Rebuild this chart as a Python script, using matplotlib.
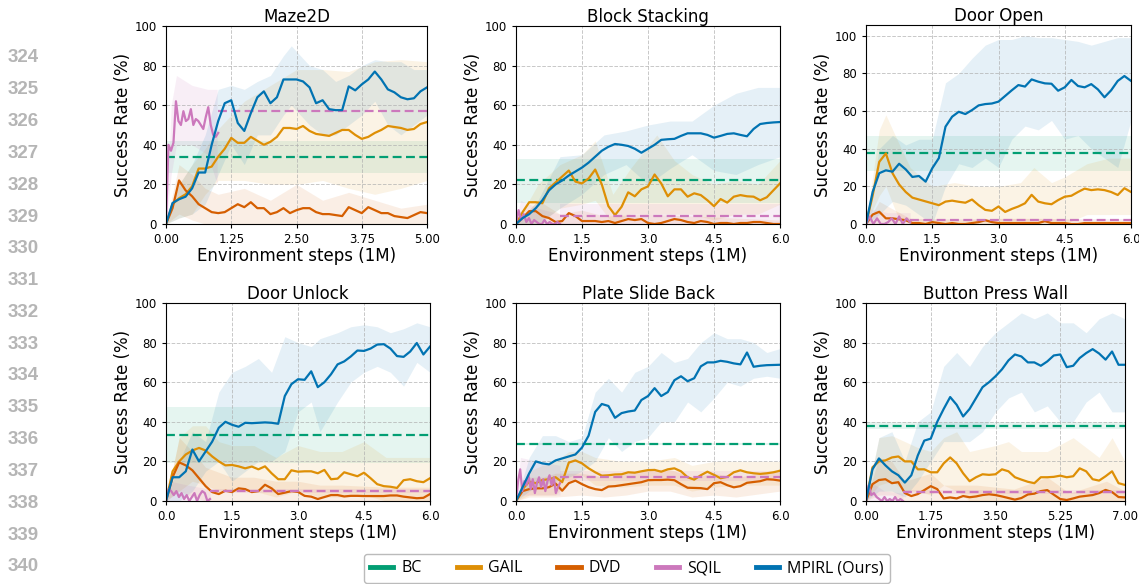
import numpy as np
import matplotlib.pyplot as plt
from matplotlib.lines import Line2D

# colours (seaborn colorblind)
C_BC = '#029e73'
C_GAIL = '#de8f05'
C_DVD = '#d55e00'
C_SQIL = '#cc78bc'
C_MPIRL = '#0173b2'

titles = ['Maze2D', 'Block Stacking', 'Door Open', 'Door Unlock', 'Plate Slide Back', 'Button Press Wall']
x_max = [5.0, 6.0, 6.0, 6.0, 6.0, 7.0]
tick_step = [1.25, 1.5, 1.5, 1.5, 1.5, 1.75]
tick_fmt = ['%.2f', '%.1f', '%.1f', '%.1f', '%.1f', '%.2f']
y_top = [100, 100, 105.7, 100, 100, 100]

# ---------------- Maze2D ----------------
mpirl_maze = [0, 10.6, 12.5, 13.8, 18, 26, 26, 40, 52, 61,
              62.5, 51, 47, 56, 64, 67, 61, 64, 73, 73,
              73, 72, 69, 61, 62.5, 58, 57.5, 57.5, 69.5, 67.5,
              70.5, 73, 77, 73, 68, 66.5, 64, 63, 63.5, 67, 69]
gail_maze = [0, 10, 13, 15, 19, 28, 28, 29, 34, 38,
             43.5, 41, 41, 44, 42, 40, 41.5, 44, 48.5, 48.5,
             48, 49.5, 47, 45.5, 45, 44.5, 46, 47.5, 47.5, 45,
             43, 44, 46, 47.5, 49.5, 49, 48.5, 47.5, 48, 50.5, 51.5]
dvd_maze = [0, 8, 22, 17, 14, 10, 8, 6, 5.5, 6,
            8, 10, 8.5, 11, 8, 8, 5, 6, 8, 5.5,
            7, 8, 8, 6, 5, 5, 4.5, 4, 8.5, 7,
            5.5, 8.5, 7, 5.5, 5.5, 4, 3.5, 3, 4.5, 6, 5.5]
sqil_maze = [0, 40, 37, 41, 62, 52, 50, 57, 52, 53, 58, 50, 53, 52, 50, 48, 54, 59, 50, 45, 44, 46]
sqil_level_maze = (57.3, 57.3, 57.3)
bc_maze = (34, 26, 42)
mpirl_band_maze = [(0, 0, 0), (0.25, 3, 20), (0.5, 5, 30), (0.75, 10, 45), (1.0, 25, 68), (1.25, 40, 70),
                   (1.5, 30, 68), (1.75, 45, 72), (2.0, 45, 75), (2.25, 55, 85), (2.4, 60, 90), (2.75, 50, 80),
                   (3.0, 45, 78), (3.25, 45, 72), (3.5, 50, 75), (3.75, 55, 80), (4.0, 62, 83), (4.25, 50, 82),
                   (4.5, 45, 82), (4.75, 50, 78), (5.0, 55, 78)]
gail_band_maze = [(0, 0, 0), (0.25, 3, 20), (0.5, 5, 30), (0.75, 15, 38), (1.0, 22, 48), (1.5, 22, 62),
                  (2.0, 20, 70), (2.5, 20, 78), (3.0, 22, 78), (3.5, 18, 77), (4.0, 15, 82), (4.5, 18, 83),
                  (5.0, 22, 82)]
dvd_band_maze = [(0, 0, 0), (0.25, 5, 30), (0.5, 2, 25), (0.75, 0, 18), (1.0, 0, 15), (1.5, 0, 18),
                 (2.0, 0, 12), (2.5, 0, 20), (3.0, 0, 12), (3.5, 0, 16), (4.0, 0, 12), (4.5, 0, 8), (5.0, 0, 10)]
sqil_band_maze = [(0, 0, 0), (0.1, 25, 60), (0.2, 40, 75), (0.5, 40, 70), (0.8, 35, 68), (0.98, 20, 68)]

# ---------------- Block Stacking ----------------
mpirl_block = [0, 3, 5, 8, 12, 17, 20, 22, 24.5, 26.5,
               28.5, 31, 34, 37, 39, 40.4, 40, 39.4, 38, 36,
               38, 40, 42.5, 42.8, 43, 44.5, 45.8, 45.8, 45.8, 45,
               43.6, 44.5, 45.5, 45.8, 45, 44.3, 48, 50.5, 51, 51.3, 51.5]
gail_block = [0, 6, 11, 11, 10.5, 18, 21, 24, 27, 21.4,
              20.5, 23, 27.5, 20, 9, 4.5, 8.7, 16, 14, 17.5,
              19, 25, 20.5, 14, 17.5, 17.5, 13.8, 15.5, 14.6, 12,
              9, 12.6, 10.8, 13.8, 14.6, 14, 13.8, 12, 13.5, 17, 20.5]
dvd_block = [0, 3, 6.5, 6.5, 4, 3, 1, 1.5, 5.5, 4,
             1.5, 1.5, 1.5, 1, 1.5, 0.5, 1.5, 2.5, 2, 2.5,
             0.5, 0, 0.5, 1.5, 2.5, 2, 1, 0.5, 1.5, 1,
             0, 0.5, 0.5, 0, 0.5, 0.5, 1, 1, 0.5, 0, 0]
sqil_block = [0, 7, 2, 5, 1, 3, 0, 2, 1, 0, 0, 2, 0, 1, 0, 0, 1, 0]
sqil_level_block = (4, 0, 10)
bc_block = (22, 10.5, 33)
mpirl_band_block = [(0, 0, 0), (0.5, 0, 12), (1.0, 8, 34), (1.5, 15, 35), (2.0, 25, 45), (2.5, 30, 47),
                    (3.0, 20, 50), (3.5, 28, 52), (4.0, 35, 52), (4.5, 27, 60), (5.0, 25, 66), (5.5, 30, 69),
                    (6.0, 34, 69)]
gail_band_block = [(0, 0, 0), (0.5, 0, 20), (1.0, 8, 30), (1.5, 10, 35), (1.8, 12, 42), (2.2, 0, 15),
                   (2.6, 5, 28), (3.2, 5, 45), (3.6, 5, 32), (4.0, 5, 25), (4.5, 2, 20), (5.0, 5, 22),
                   (5.5, 5, 20), (6.0, 10, 32)]
dvd_band_block = [(0, 0, 0), (0.5, 0, 12), (1.0, 0, 5), (1.5, 0, 7), (2.0, 0, 4), (3.0, 0, 5),
                  (4.0, 0, 4), (5.0, 0, 3), (6.0, 0, 2)]
sqil_band_block = [(0, 0, 0), (0.1, 0, 12), (0.5, 0, 8), (1.0, 0, 5)]

# ---------------- Door Open ----------------
mpirl_dopen = [0, 17, 27, 28.5, 27.8, 32, 29, 25, 25.5, 22.5,
               29.6, 35, 51.7, 57, 59.6, 58.4, 60.5, 63, 63.7, 64,
               65, 68, 71, 73.8, 73, 76.8, 75.6, 74.7, 74.5, 70.8,
               72.6, 76.5, 73.3, 72.6, 74.3, 71.5, 67.3, 71, 76, 78.6, 76]
gail_dopen = [0, 15, 33, 37.5, 27, 21, 17, 14, 13, 12,
              11, 10, 11.9, 12.4, 11.8, 11.3, 13, 10, 7.5, 7,
              9.3, 6.4, 8, 9.3, 11, 15.5, 11.9, 11, 10.5, 12.7,
              14.5, 15, 17, 18.8, 18, 18.4, 18, 17, 15.4, 19, 17]
dvd_dopen = [0, 5, 6.5, 3, 3, 2.5, 2, 0.5, 0.5, 0,
             1, 0.5, 0, 0.5, 0, 0, 0.5, 1, 2, 1,
             0.5, 0.5, 0.5, 0.5, 0.5, 0.5, 0.5, 1.5, 0.5, 0.5,
             0.5, 0, 0, 0.5, 0.5, 0.5, 0.5, 0.5, 0.5, 0.5, 0.5]
sqil_dopen = [0, 4, 0, 3, 0, 0, 1, 3, 0, 4, 0, 3, 1]
sqil_level_dopen = (2, 1.5, 2.5)
bc_dopen = (37.5, 28, 47)
mpirl_band_dopen = [(0, 0, 0), (0.3, 5, 40), (0.6, 12, 47), (0.9, 10, 42), (1.2, 5, 45), (1.5, 0, 45),
                    (1.8, 20, 75), (2.1, 32, 80), (2.4, 30, 88), (2.7, 35, 95), (3.0, 30, 98), (3.3, 45, 98),
                    (3.6, 52, 100), (3.9, 50, 99), (4.2, 55, 99), (4.5, 45, 98), (4.8, 47, 97), (5.1, 40, 95),
                    (5.4, 35, 97), (5.7, 30, 99), (6.0, 55, 99)]
gail_band_dopen = [(0, 0, 0), (0.3, 15, 50), (0.45, 20, 58), (0.7, 5, 45), (1.0, 0, 30), (1.5, 0, 20),
                   (2.0, 0, 22), (2.5, 0, 20), (3.0, 0, 20), (3.5, 0, 22), (3.8, 0, 30), (4.2, 0, 22),
                   (4.5, 0, 25), (5.0, 5, 32), (5.5, 5, 35), (6.0, 5, 35)]
dvd_band_dopen = [(0, 0, 0), (0.3, 0, 12), (0.6, 0, 8), (1.0, 0, 3), (2.0, 0, 2), (3.0, 0, 3),
                  (4.0, 0, 3), (5.0, 0, 2), (6.0, 0, 2)]
sqil_band_dopen = [(0, 0, 0), (0.1, 0, 8), (0.5, 0, 6), (1.0, 0, 6)]

# ---------------- Door Unlock ----------------
mpirl_dunlock = [0, 12, 12, 15, 26, 20, 25, 30, 37, 40,
                 38.5, 37.5, 39.5, 39.3, 39.5, 39.7, 39.5, 39, 53, 59,
                 61.5, 61.2, 65.5, 57.5, 60, 64, 69, 70.5, 73, 76,
                 75.8, 77, 79, 79.2, 77, 73.2, 72.8, 75.5, 79.8, 74, 78]
gail_dunlock = [0, 15, 20, 23.5, 25.5, 26.8, 25.5, 22.5, 20, 18,
                18.2, 17.5, 16.5, 17.4, 16, 17.5, 14, 11, 11, 15.5,
                14.8, 15, 15, 14, 15.7, 11, 11.3, 14.5, 13.5, 12.5,
                14.3, 11.5, 8.5, 7.5, 7.2, 6.6, 10.5, 11, 10, 9.5, 11.5]
dvd_dunlock = [0, 12, 19.5, 18, 15.5, 11.5, 7.5, 4.5, 3.5, 5.2,
               4.5, 6.4, 6, 4.5, 5, 8.2, 6.4, 3.5, 4.2, 5,
               4.6, 2.6, 2.2, 1, 2, 3, 3, 2.3, 2.6, 2.6,
               2.5, 2.5, 2.5, 2.5, 2.8, 2.8, 2.2, 1.8, 1.4, 1.6, 3.5]
sqil_dunlock = [0, 6, 5, 3, 5, 2, 4, 1, 3, 0, 2, 4, 0, 3, 5, 4, 0, 1]
sqil_level_dunlock = (5, 4, 6)
bc_dunlock = (33.3, 19, 47.5)
mpirl_band_dunlock = [(0, 0, 0), (0.3, 0, 20), (0.6, 5, 35), (0.9, 15, 30), (1.2, 20, 55), (1.5, 10, 65),
                      (1.8, 15, 68), (2.1, 20, 72), (2.4, 20, 65), (2.7, 25, 83), (3.0, 45, 80), (3.3, 50, 78),
                      (3.5, 35, 82), (3.9, 50, 85), (4.2, 60, 88), (4.5, 65, 89), (4.8, 68, 88), (5.1, 65, 85),
                      (5.4, 58, 87), (5.7, 70, 90), (6.0, 65, 88)]
gail_band_dunlock = [(0, 0, 0), (0.3, 5, 32), (0.6, 10, 38), (0.9, 8, 38), (1.2, 5, 30), (1.5, 5, 28),
                     (2.0, 5, 28), (2.5, 2, 22), (3.0, 5, 28), (3.5, 2, 25), (4.0, 2, 25), (4.5, 3, 30),
                     (5.0, 0, 22), (5.5, 0, 22), (6.0, 0, 22)]
dvd_band_dunlock = [(0, 0, 0), (0.3, 5, 32), (0.6, 2, 25), (0.9, 0, 17), (1.5, 0, 12), (2.0, 0, 12),
                    (2.5, 0, 10), (3.0, 0, 10), (3.5, 0, 8), (4.0, 0, 8), (5.0, 0, 7), (6.0, 0, 7)]
sqil_band_dunlock = [(0, 0, 0), (0.1, 0, 10), (0.5, 0, 8), (1.0, 0, 6)]

# ---------------- Plate Slide Back ----------------
mpirl_plate = [0, 7, 14, 20, 19, 18.5, 20.5, 21.5, 22.5, 23.5,
               27, 33, 45, 49, 48, 42, 44.4, 45.2, 45.7, 51,
               53, 57, 53, 55, 61, 63, 60.5, 62, 68, 70,
               70, 70.8, 70.3, 69.5, 69, 75, 67.8, 68.3, 68.6, 68.7, 68.8]
gail_plate = [0, 6, 9.8, 9, 10.6, 11, 12, 9.5, 19.4, 20.5,
              19, 16.5, 14.5, 12.8, 13, 13.4, 13.5, 14.5, 14.3, 15,
              15.6, 15.7, 14.8, 16, 16.5, 15, 12, 10.8, 13, 14.8,
              13.2, 11.5, 12.2, 14.5, 15.5, 14.5, 14, 13.7, 14, 14.5, 15.3]
dvd_plate = [0, 5, 6, 6.4, 6.4, 7, 8.8, 5.2, 9, 10.3,
             8.5, 7, 6, 5.5, 7.3, 7.5, 8, 8.5, 9, 9.5,
             10.5, 10.6, 10.6, 10.8, 10.5, 8.5, 6.7, 6.6, 6.5, 6,
             9, 9.5, 8, 6.9, 7.5, 9.2, 9.6, 10, 11, 10.8, 10.3]
sqil_plate = [0, 10, 16, 5, 10, 8, 13, 6, 11, 4, 9, 12, 7, 11, 5, 10, 13, 8, 12, 4, 7, 9]
sqil_level_plate = (12.3, 10, 15)
bc_plate = (29, 28.5, 29.5)
mpirl_band_plate = [(0, 0, 0), (0.3, 5, 22), (0.6, 8, 33), (0.9, 10, 33), (1.2, 12, 30), (1.5, 15, 32),
                    (1.8, 20, 55), (2.1, 32, 62), (2.4, 25, 55), (2.7, 30, 65), (3.0, 32, 68), (3.3, 40, 75),
                    (3.6, 40, 70), (3.9, 50, 72), (4.2, 45, 80), (4.5, 52, 85), (4.8, 60, 82), (5.1, 58, 82),
                    (5.4, 62, 80), (5.7, 63, 75), (6.0, 62, 77)]
gail_band_plate = [(0, 0, 0), (0.3, 3, 15), (0.6, 3, 18), (0.9, 3, 20), (1.2, 10, 25), (1.5, 13, 25),
                   (1.8, 8, 22), (2.4, 7, 20), (3.0, 8, 20), (3.6, 8, 22), (4.0, 5, 18), (4.5, 7, 20),
                   (5.0, 8, 20), (6.0, 8, 20)]
dvd_band_plate = [(0, 0, 0), (0.3, 2, 12), (0.6, 2, 12), (0.9, 2, 14), (1.5, 3, 14), (2.0, 2, 12),
                  (2.5, 3, 14), (3.0, 5, 16), (3.5, 5, 16), (4.0, 2, 12), (4.5, 3, 14), (5.0, 2, 12),
                  (6.0, 5, 15)]
sqil_band_plate = [(0, 0, 0), (0.1, 3, 22), (0.5, 3, 20), (1.0, 3, 18)]

# ---------------- Button Press Wall ----------------
mpirl_button = [0, 16, 21.5, 18, 15, 13, 9.3, 13, 23, 30.5,
                31.5, 40, 46.5, 52.5, 48.6, 42.7, 46.5, 52, 57.5, 60,
                63, 66.5, 71, 74, 73, 70, 70, 68.3, 70.5, 73.5,
                74, 67.6, 68.3, 72.2, 74.7, 76.7, 74.5, 71.4, 75.5, 68.8, 68.8]
gail_button = [0, 17, 20, 20.5, 22, 22.5, 20, 20, 16, 16,
               14.5, 14.5, 19, 22, 19, 14, 10, 12, 13.5, 13.2,
               13.5, 16, 15, 12, 10.8, 9.7, 9, 12, 12, 12.2,
               12.8, 12, 12.5, 16.5, 15, 11, 10.3, 12.5, 15, 9, 8.1]
dvd_button = [0, 8.5, 10.6, 11, 9, 9.5, 4, 2.5, 3.5, 5.5,
              7.5, 6, 1.3, 1.8, 1.3, 2.5, 1.9, 2.3, 3, 3.4,
              3, 2.3, 1.5, 0.7, 1.5, 3.3, 3.7, 5, 5.5, 3.2,
              1, 0.5, 1.3, 2.2, 2.6, 3, 4, 5.6, 4.5, 2, 1.8]
sqil_button = [0, 8, 3, 4, 2, 1, 0, 2, 0, 1, 0, 2, 0, 1, 0]
sqil_level_button = (4.5, 3.5, 5.5)
bc_button = (38, 36.5, 40)
mpirl_band_button = [(0, 0, 0), (0.35, 5, 32), (0.7, 5, 35), (1.05, 2, 20), (1.4, 10, 40), (1.75, 20, 45),
                     (2.1, 30, 68), (2.45, 30, 75), (2.8, 30, 68), (3.15, 35, 78), (3.5, 45, 85), (3.85, 52, 90),
                     (4.2, 55, 95), (4.55, 45, 92), (4.9, 48, 95), (5.25, 40, 90), (5.6, 40, 90), (5.95, 50, 85),
                     (6.3, 55, 92), (6.65, 45, 95), (7.0, 45, 92)]
gail_band_button = [(0, 0, 0), (0.35, 8, 32), (0.7, 10, 33), (1.05, 5, 30), (1.4, 5, 27), (1.75, 3, 25),
                    (2.1, 8, 32), (2.45, 5, 35), (2.8, 0, 25), (3.5, 0, 28), (3.85, 0, 30), (4.2, 0, 25),
                    (4.9, 0, 25), (5.6, 0, 32), (6.3, 0, 22), (6.65, 0, 32), (7.0, 0, 20)]
dvd_band_button = [(0, 0, 0), (0.35, 3, 22), (0.7, 3, 20), (1.05, 0, 10), (1.75, 0, 14), (2.1, 0, 8),
                   (3.0, 0, 8), (4.0, 0, 6), (4.9, 0, 12), (5.5, 0, 4), (6.5, 0, 10), (7.0, 0, 5)]
sqil_band_button = [(0, 0, 0), (0.1, 0, 10), (0.5, 0, 5), (1.0, 0, 4)]

line_numbers = list(range(324, 341))

panels = [
    (mpirl_maze, gail_maze, dvd_maze, sqil_maze, sqil_level_maze, bc_maze,
     mpirl_band_maze, gail_band_maze, dvd_band_maze, sqil_band_maze),
    (mpirl_block, gail_block, dvd_block, sqil_block, sqil_level_block, bc_block,
     mpirl_band_block, gail_band_block, dvd_band_block, sqil_band_block),
    (mpirl_dopen, gail_dopen, dvd_dopen, sqil_dopen, sqil_level_dopen, bc_dopen,
     mpirl_band_dopen, gail_band_dopen, dvd_band_dopen, sqil_band_dopen),
    (mpirl_dunlock, gail_dunlock, dvd_dunlock, sqil_dunlock, sqil_level_dunlock, bc_dunlock,
     mpirl_band_dunlock, gail_band_dunlock, dvd_band_dunlock, sqil_band_dunlock),
    (mpirl_plate, gail_plate, dvd_plate, sqil_plate, sqil_level_plate, bc_plate,
     mpirl_band_plate, gail_band_plate, dvd_band_plate, sqil_band_plate),
    (mpirl_button, gail_button, dvd_button, sqil_button, sqil_level_button, bc_button,
     mpirl_band_button, gail_band_button, dvd_band_button, sqil_band_button),
]

# axes boxes in pixels: left, top, right, bottom
boxes = [(166, 26, 427, 224), (516, 26, 780, 224), (866, 25, 1131, 224),
         (166, 303, 430, 501), (516, 303, 780, 501), (866, 303, 1125, 501)]

W, H = 1139, 584
fig = plt.figure(figsize=(W / 100, H / 100), dpi=100)


def band(ax, rows, color, alpha=0.1):
    b = np.array(rows, dtype=float)
    ax.fill_between(b[:, 0], b[:, 1], b[:, 2], color=color, alpha=alpha, lw=0)


for i, p in enumerate(panels):
    mpirl, gail, dvd, sqil, sqil_lvl, bc, mb, gb, db, sb = p
    l, t, r, b = boxes[i]
    ax = fig.add_axes([l / W, 1 - b / H, (r - l) / W, (b - t) / H])
    xm = x_max[i]
    x = np.linspace(0, xm, len(mpirl))
    xs = np.linspace(0, 1.0, len(sqil))

    # BC: flat dashed line with band
    ax.axhspan(bc[1], bc[2], color=C_BC, alpha=0.1, lw=0)
    ax.axhline(bc[0], color=C_BC, ls='--', lw=1.6, dashes=(4, 2))

    band(ax, gb, C_GAIL)
    ax.plot(x, gail, color=C_GAIL, lw=1.6)
    band(ax, db, C_DVD)
    ax.plot(x, dvd, color=C_DVD, lw=1.6)

    band(ax, sb, C_SQIL, 0.12)
    ax.plot(xs, sqil, color=C_SQIL, lw=1.6)
    ax.fill_between([1.0, xm], [sqil_lvl[1]] * 2, [sqil_lvl[2]] * 2, color=C_SQIL, alpha=0.12, lw=0)
    ax.plot([1.0, xm], [sqil_lvl[0]] * 2, color=C_SQIL, ls='--', lw=1.6, dashes=(4, 2))

    band(ax, mb, C_MPIRL)
    ax.plot(x, mpirl, color=C_MPIRL, lw=1.6)

    ax.set_xlim(0, xm)
    ax.set_ylim(0, y_top[i])
    ticks = np.arange(0, xm + 1e-6, tick_step[i])
    ax.set_xticks(ticks)
    ax.set_xticklabels([tick_fmt[i] % v for v in ticks])
    ax.set_yticks([0, 20, 40, 60, 80, 100])
    ax.tick_params(labelsize=8.5, length=3)
    ax.grid(True, ls='--', lw=0.7, color='#b0b0b0', alpha=0.7)
    ax.set_title(titles[i], fontsize=12, pad=3)
    ax.set_xlabel('Environment steps (1M)', fontsize=12, labelpad=1)
    ax.set_ylabel('Success Rate (%)', fontsize=12, labelpad=2)

# line numbers of the paper page
for k, n in enumerate(line_numbers):
    fig.text(8 / W, 1 - (58 + k * 31.8) / H, str(n), fontsize=13.5, fontweight='bold',
             color='#b5b5b5', family='Liberation Sans', va='center', ha='left')

handles = [Line2D([], [], color=c, lw=3.5) for c in [C_BC, C_GAIL, C_DVD, C_SQIL, C_MPIRL]]
fig.legend(handles, ['BC', 'GAIL', 'DVD', 'SQIL', 'MPIRL (Ours)'], loc='upper center',
           bbox_to_anchor=(627 / W, 1 - 554 / H), ncol=5, frameon=True,
           prop={'family': 'Open Sans', 'size': 11.5},
           handlelength=1.45, handletextpad=0.5, columnspacing=2.2, borderaxespad=0,
           fancybox=True, edgecolor='#bbbbbb', framealpha=1)

fig.savefig('out.png', dpi=100)
